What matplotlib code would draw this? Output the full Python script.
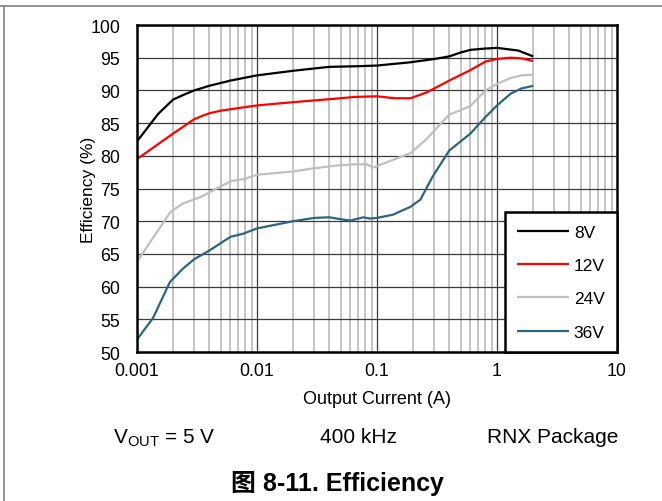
import matplotlib
matplotlib.use("Agg")
import matplotlib.pyplot as plt
from matplotlib.lines import Line2D
from matplotlib.ticker import LogLocator, NullFormatter

plt.rcParams['font.family'] = ['Liberation Sans', 'Noto Sans CJK SC', 'DejaVu Sans']
plt.rcParams['mathtext.fontset'] = 'custom'
plt.rcParams['mathtext.rm'] = 'Liberation Sans'

# ---------------- data ----------------
i_8v = [0.001, 0.0015, 0.002, 0.0025, 0.003, 0.004, 0.006, 0.01, 0.02, 0.04, 0.07, 0.1,
        0.19, 0.3, 0.4, 0.5, 0.6, 0.8, 1.0, 1.5, 2.0]
eff_8v = [82.2, 86.4, 88.6, 89.4, 90.0, 90.7, 91.5, 92.3, 93.0, 93.6, 93.7, 93.8,
          94.3, 94.8, 95.2, 95.8, 96.2, 96.4, 96.5, 96.1, 95.2]

i_12v = [0.001, 0.002, 0.0025, 0.003, 0.0035, 0.004, 0.005, 0.007, 0.01, 0.02, 0.043,
         0.065, 0.1, 0.14, 0.19, 0.26, 0.4, 0.6, 0.8, 1.0, 1.3, 1.6, 2.0]
eff_12v = [79.5, 83.4, 84.6, 85.6, 86.1, 86.5, 86.9, 87.3, 87.7, 88.2, 88.7,
           89.0, 89.1, 88.8, 88.8, 89.7, 91.5, 93.1, 94.4, 94.8, 95.0, 94.9, 94.5]

i_24v = [0.001, 0.0014, 0.0019, 0.0024, 0.0034, 0.0045, 0.006, 0.008, 0.01, 0.02,
         0.03, 0.045, 0.065, 0.082, 0.093, 0.12, 0.19, 0.26, 0.4, 0.5, 0.6, 0.8,
         1.0, 1.3, 1.6, 2.0]
eff_24v = [63.8, 67.8, 71.4, 72.7, 73.7, 74.9, 76.1, 76.5, 77.1, 77.6,
           78.1, 78.5, 78.7, 78.7, 78.2, 79.0, 80.4, 82.6, 86.3, 87.0, 87.6, 90.0,
           91.0, 91.9, 92.3, 92.4]

i_36v = [0.001, 0.00136, 0.00188, 0.0024, 0.003, 0.004, 0.006, 0.0077, 0.01, 0.02,
         0.03, 0.04, 0.05, 0.06, 0.077, 0.087, 0.1, 0.136, 0.19, 0.23, 0.29, 0.4,
         0.6, 0.8, 1.0, 1.3, 1.6, 2.0]
eff_36v = [51.9, 55.2, 60.7, 62.7, 64.2, 65.5, 67.6, 68.1, 68.9, 70.0,
           70.5, 70.6, 70.3, 70.1, 70.6, 70.4, 70.5, 71.0, 72.2, 73.3, 76.8, 80.8,
           83.4, 85.9, 87.7, 89.5, 90.3, 90.7]

series_labels = ['8V', '12V', '24V', '36V']
series_colors = ['#000000', '#FF0000', '#BFBFBF', '#2F637E']

x_ticks = [0.001, 0.01, 0.1, 1, 10]
x_ticklabels = ['0.001', '0.01', '0.1', '1', '10']
y_ticks = list(range(50, 101, 5))

# ---------------- figure ----------------
W, H = 662, 502
fig = plt.figure(figsize=(W / 100, H / 100), dpi=100)
ax = fig.add_axes([137 / W, 1 - 353 / H, (617 - 137) / W, (353 - 26) / H])

ax.set_xscale('log')
ax.set_xlim(0.001, 10)
ax.set_ylim(50, 100)

# grid
ax.xaxis.set_minor_locator(LogLocator(base=10, subs=range(2, 10), numticks=20))
ax.xaxis.set_minor_formatter(NullFormatter())
ax.grid(which='minor', axis='x', color='#C4C4C4', linewidth=1.4, zorder=1)
ax.grid(which='major', axis='x', color='#3a3a3a', linewidth=0.9, zorder=1.2)
ax.grid(which='major', axis='y', color='#3a3a3a', linewidth=0.9, zorder=1.2)
ax.set_axisbelow(True)

xs = [i_8v, i_12v, i_24v, i_36v]
ys = [eff_8v, eff_12v, eff_24v, eff_36v]
for x, y, lab, col in zip(xs, ys, series_labels, series_colors):
    ax.plot(x, y, color=col, linewidth=1.6, label=lab, zorder=3,
            solid_joinstyle='round', solid_capstyle='butt')

ax.set_xticks(x_ticks)
ax.set_xticklabels(x_ticklabels)
ax.set_yticks(y_ticks)
ax.tick_params(axis='both', which='both', length=0, labelsize=12.8)
ax.tick_params(axis='y', pad=12)
ax.tick_params(axis='x', pad=7)

for s in ax.spines.values():
    s.set_linewidth(1.8)
    s.set_color('black')
    s.set_zorder(4)

ax.set_xlabel('Output Current (A)', fontsize=13, labelpad=8)
ax.set_ylabel('Efficiency (%)', fontsize=12.5, va='center')
ax.yaxis.set_label_coords((88 - 137) / 480, 0.5)

leg = ax.legend(loc='lower right', borderaxespad=0, fancybox=False,
                frameon=True, fontsize=12.5, handlelength=2.95,
                handletextpad=0.3, labelspacing=1.05, borderpad=0.7)
leg.get_frame().set_edgecolor('black')
leg.get_frame().set_linewidth(1.8)
leg.get_frame().set_alpha(1)
leg.set_zorder(5)

# bottom notes
fig.text(164 / W, 1 - 438 / H, r'$\mathrm{V_{OUT}}$ = 5 V', ha='center', va='center', fontsize=15)
fig.text(358 / W, 1 - 438 / H, '400 kHz', ha='center', va='center', fontsize=15)
fig.text(553 / W, 1 - 438 / H, 'RNX Package', ha='center', va='center', fontsize=15)
fig.text(337 / W, 1 - 484 / H, '图 8-11. Efficiency', ha='center', va='center',
         fontsize=18, fontweight='bold')

# frame lines
fig.add_artist(Line2D([0, 1], [1 - 6.5 / H, 1 - 6.5 / H], transform=fig.transFigure,
                      color='#808080', linewidth=1.2))
fig.add_artist(Line2D([3.5 / W, 3.5 / W], [0, 1 - 6.5 / H], transform=fig.transFigure,
                      color='#808080', linewidth=1.2))

fig.savefig('out.png', dpi=100)
